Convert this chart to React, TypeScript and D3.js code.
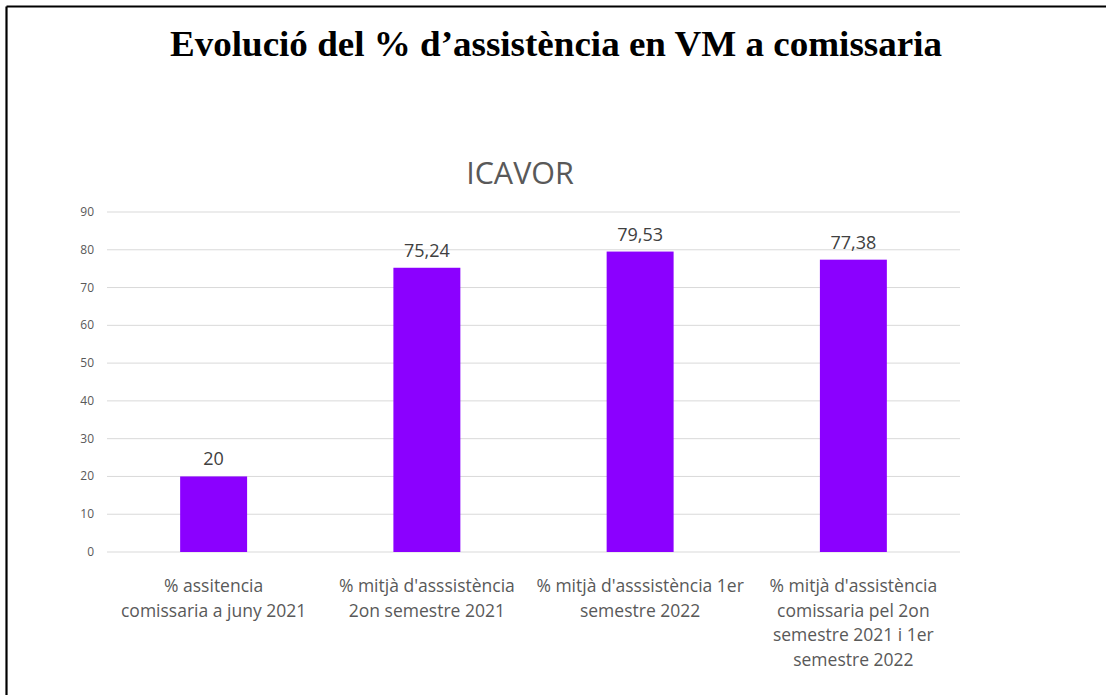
import React from "react";
import * as d3 from "d3";

const categories = [
  "% assitencia\ncomissaria a juny 2021",
  "% mitjà d'asssistència\n2on semestre 2021",
  "% mitjà d'asssistència 1er\nsemestre 2022",
  "% mitjà d'assistència\ncomissaria pel 2on\nsemestre 2021 i 1er\nsemestre 2022",
];
const values = [20, 75.24, 79.53, 77.38];
const valueLabels = ["20", "75,24", "79,53", "77,38"];
const yTicks = [0, 10, 20, 30, 40, 50, 60, 70, 80, 90];

const W = 1106;
const H = 695;
const left = 107;
const right = 960;
const top = 212;
const bottom = 552;

export default function App() {
  const x = d3.scaleBand<string>().domain(categories).range([left, right]).paddingInner(0.686).paddingOuter(0.343);
  const y = d3.scaleLinear().domain([0, 90]).range([bottom, top]);
  const sans = "'Open Sans', 'Noto Sans', sans-serif";
  return (
    <svg width={W} height={H} style={{ position: "absolute", left: 0, top: 0, background: "#fff" }}>
      <rect x={0} y={0} width={W} height={H} fill="#fff" />
      <line x1={6.5} y1={6.5} x2={W} y2={6.5} stroke="#000" strokeWidth={2.2} />
      <line x1={6.5} y1={6.5} x2={6.5} y2={H} stroke="#000" strokeWidth={2.2} />
      <text x={556} y={56} textAnchor="middle" fontFamily="'Liberation Serif', 'DejaVu Serif', serif" fontWeight="bold" fontSize={35} textLength={772} lengthAdjust="spacingAndGlyphs" fill="#000">
        Evolució del % d’assistència en VM a comissaria
      </text>
      <text x={520} y={184} textAnchor="middle" fontFamily={sans} fontSize={30.5} fill="#595959">
        ICAVOR
      </text>
      {yTicks.map((t) => (
        <g key={t}>
          <line x1={left} x2={right} y1={y(t)} y2={y(t)} stroke="#d9d9d9" strokeWidth={1} />
          <text x={94} y={y(t) + 4} textAnchor="end" fontFamily={sans} fontSize={12} fill="#595959">
            {t}
          </text>
        </g>
      ))}
      {categories.map((c, i) => (
        <g key={c}>
          <rect x={x(c)} y={y(values[i])} width={x.bandwidth()} height={y(0) - y(values[i])} fill="#8B00FF" />
          <text x={(x(c) as number) + x.bandwidth() / 2} y={y(values[i]) - 11} textAnchor="middle" fontFamily={sans} fontSize={18} fill="#404040">
            {valueLabels[i]}
          </text>
          <text x={(x(c) as number) + x.bandwidth() / 2} y={592} textAnchor="middle" fontFamily={sans} fontSize={17.5} fill="#595959">
            {c.split("\n").map((ln, j) => (
              <tspan key={j} x={(x(c) as number) + x.bandwidth() / 2} dy={j === 0 ? 0 : 24.5}>
                {ln}
              </tspan>
            ))}
          </text>
        </g>
      ))}
    </svg>
  );
}
